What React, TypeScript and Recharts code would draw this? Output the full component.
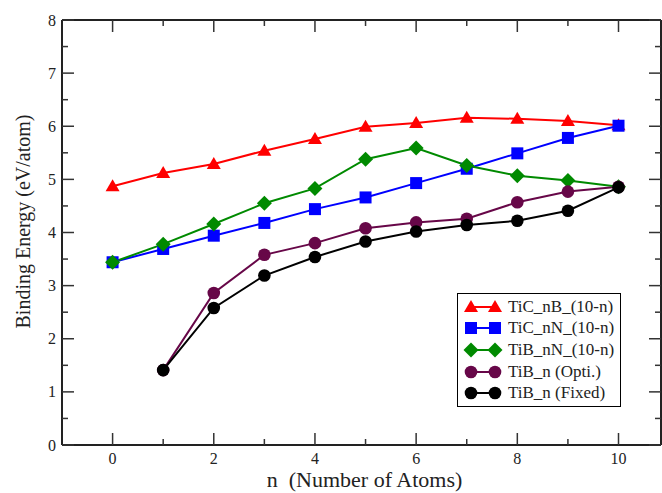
import { LineChart, Line, XAxis, YAxis, Legend } from 'recharts';

const atoms = [0, 1, 2, 3, 4, 5, 6, 7, 8, 9, 10];
const tiCnB = [4.87, 5.12, 5.29, 5.54, 5.76, 5.99, 6.06, 6.16, 6.14, 6.1, 6.02];
const tiCnN = [3.44, 3.69, 3.94, 4.18, 4.44, 4.66, 4.93, 5.2, 5.49, 5.78, 6.01];
const tiBnN = [3.44, 3.78, 4.16, 4.55, 4.83, 5.38, 5.59, 5.26, 5.07, 4.98, 4.86];
const tiBnOpti = [null, 1.41, 2.86, 3.58, 3.8, 4.08, 4.19, 4.26, 4.57, 4.77, 4.86];
const tiBnFixed = [null, 1.41, 2.58, 3.19, 3.54, 3.83, 4.02, 4.14, 4.22, 4.41, 4.85];

const xTicks = [0, 1, 2, 3, 4, 5, 6, 7, 8, 9, 10];
const yTicks = [0, 0.5, 1, 1.5, 2, 2.5, 3, 3.5, 4, 4.5, 5, 5.5, 6, 6.5, 7, 7.5, 8];

const series = [
  { key: 'tiCnB', name: 'TiC_nB_(10-n)', color: '#ff0000', shape: 'triangle' },
  { key: 'tiCnN', name: 'TiC_nN_(10-n)', color: '#0000ff', shape: 'square' },
  { key: 'tiBnN', name: 'TiB_nN_(10-n)', color: '#008a00', shape: 'diamond' },
  { key: 'tiBnOpti', name: 'TiB_n (Opti.)', color: '#670748', shape: 'circle' },
  { key: 'tiBnFixed', name: 'TiB_n (Fixed)', color: '#000000', shape: 'circle' },
];

const data = atoms.map((n, i) => ({
  n,
  tiCnB: tiCnB[i],
  tiCnN: tiCnN[i],
  tiBnN: tiBnN[i],
  tiBnOpti: tiBnOpti[i],
  tiBnFixed: tiBnFixed[i],
}));

const FONT = '"Liberation Serif", "Times New Roman", serif';
const AXIS = '#222';
const TICK = '#333';

// marker drawn centred on (x, y)
const marker = (shape: string, color: string, x: number, y: number, key?: any) => {
  if (shape === 'triangle')
    return <polygon key={key} points={`${x},${y - 7} ${x - 7},${y + 5} ${x + 7},${y + 5}`} fill={color} />;
  if (shape === 'square')
    return <rect key={key} x={x - 6} y={y - 6} width={12} height={12} fill={color} />;
  if (shape === 'diamond')
    return <polygon key={key} points={`${x},${y - 7.5} ${x + 7.5},${y} ${x},${y + 7.5} ${x - 7.5},${y}`} fill={color} />;
  return <circle key={key} cx={x} cy={y} r={6.3} fill={color} />;
};

const makeDot = (shape: string, color: string) => (props: any) => {
  const { cx, cy, index } = props;
  if (cx == null || cy == null || props.value == null) return <g key={index} />;
  return marker(shape, color, cx, cy, index);
};

const BottomTick = ({ x, y, payload }: any) => {
  const major = payload.value % 2 === 0;
  return (
    <g>
      <line x1={x} x2={x} y1={y} y2={y - (major ? 12 : 6)} stroke={TICK} strokeWidth={1.5} />
      {major && (
        <text x={x} y={y + 19} textAnchor="middle" fontFamily={FONT} fontSize={16} fill="#222">
          {payload.value}
        </text>
      )}
    </g>
  );
};

const TopTick = ({ x, y, payload }: any) => {
  const major = payload.value % 2 === 0;
  return <line x1={x} x2={x} y1={y} y2={y + (major ? 12 : 6)} stroke={TICK} strokeWidth={1.5} />;
};

const LeftTick = ({ x, y, payload }: any) => {
  const major = Number.isInteger(payload.value);
  return (
    <g>
      <line x1={x} x2={x + (major ? 12 : 6)} y1={y} y2={y} stroke={TICK} strokeWidth={1.5} />
      {major && (
        <text x={x - 6} y={y + 5.5} textAnchor="end" fontFamily={FONT} fontSize={16} fill="#222">
          {payload.value}
        </text>
      )}
    </g>
  );
};

const RightTick = ({ x, y, payload }: any) => {
  const major = Number.isInteger(payload.value);
  return <line x1={x} x2={x - (major ? 12 : 6)} y1={y} y2={y} stroke={TICK} strokeWidth={1.5} />;
};

const yLabel = (props: any) => {
  const { x, y, height } = props.viewBox;
  const cx = x + 23;
  const cy = y + height / 2 - 11;
  return (
    <text x={cx} y={cy} transform={`rotate(-90 ${cx} ${cy})`} textAnchor="middle" dominantBaseline="central"
      fontFamily={FONT} fontSize={20} fill="#222">
      Binding Energy (eV/atom)
    </text>
  );
};

const xLabel = (props: any) => {
  const { x, y, width } = props.viewBox;
  return (
    <text x={x + width / 2 + 3} y={y + 42} textAnchor="middle" fontFamily={FONT} fontSize={22} fill="#222"
      style={{ whiteSpace: 'pre' }}>
      {'n  (Number of Atoms)'}
    </text>
  );
};

const LegendBox = () => (
  <div style={{ border: '1px solid #000', background: '#fff', width: 162, padding: '2px 0', fontFamily: FONT, fontSize: 17, color: '#222' }}>
    {series.map((s) => (
      <div key={s.key} style={{ display: 'flex', alignItems: 'center', height: 21.6 }}>
        <svg width={50} height={20} style={{ flex: 'none' }}>
          <line x1={13} x2={37} y1={10} y2={10} stroke={s.color} strokeWidth={2} />
          {marker(s.shape, s.color, 13, 10)}
          {marker(s.shape, s.color, 37, 10)}
        </svg>
        <span style={{ whiteSpace: 'nowrap' }}>{s.name}</span>
      </div>
    ))}
  </div>
);

export default function App() {
  return (
    <div style={{ position: 'absolute', left: 0, top: 0, fontFamily: FONT }}>
      <LineChart width={662} height={493} data={data} margin={{ top: 0, right: 0, bottom: 0, left: 0 }}>
        <XAxis dataKey="n" type="number" domain={[-1, 10.84]} ticks={xTicks} interval={0} height={48}
          tickSize={0} tickMargin={0} tickLine={false} tick={<BottomTick />}
          axisLine={{ stroke: AXIS, strokeWidth: 2 }} allowDataOverflow label={xLabel} />
        <XAxis xAxisId="top" dataKey="n" type="number" orientation="top" domain={[-1, 10.84]} ticks={xTicks}
          interval={0} height={20} tickSize={0} tickMargin={0} tickLine={false} tick={<TopTick />}
          axisLine={{ stroke: AXIS, strokeWidth: 2 }} allowDataOverflow />
        <YAxis type="number" domain={[0, 8]} ticks={yTicks} interval={0} width={62} tickSize={0} tickMargin={0}
          tickLine={false} tick={<LeftTick />} axisLine={{ stroke: AXIS, strokeWidth: 2 }} allowDataOverflow label={yLabel} />
        <YAxis yAxisId="right" orientation="right" type="number" domain={[0, 8]} ticks={yTicks} interval={0} width={1}
          tickSize={0} tickMargin={0} tickLine={false} tick={<RightTick />} axisLine={{ stroke: AXIS, strokeWidth: 2 }}
          allowDataOverflow />
        <Legend layout="vertical" align="center" verticalAlign="middle" content={<LegendBox />}
          wrapperStyle={{ left: 457, top: 293, width: 164, height: 'auto' }} />
        {series.map((s) => (
          <Line key={s.key} dataKey={s.key} name={s.name} stroke={s.color} strokeWidth={2} isAnimationActive={false}
            dot={makeDot(s.shape, s.color)} activeDot={false} connectNulls={false} />
        ))}
      </LineChart>
    </div>
  );
}
